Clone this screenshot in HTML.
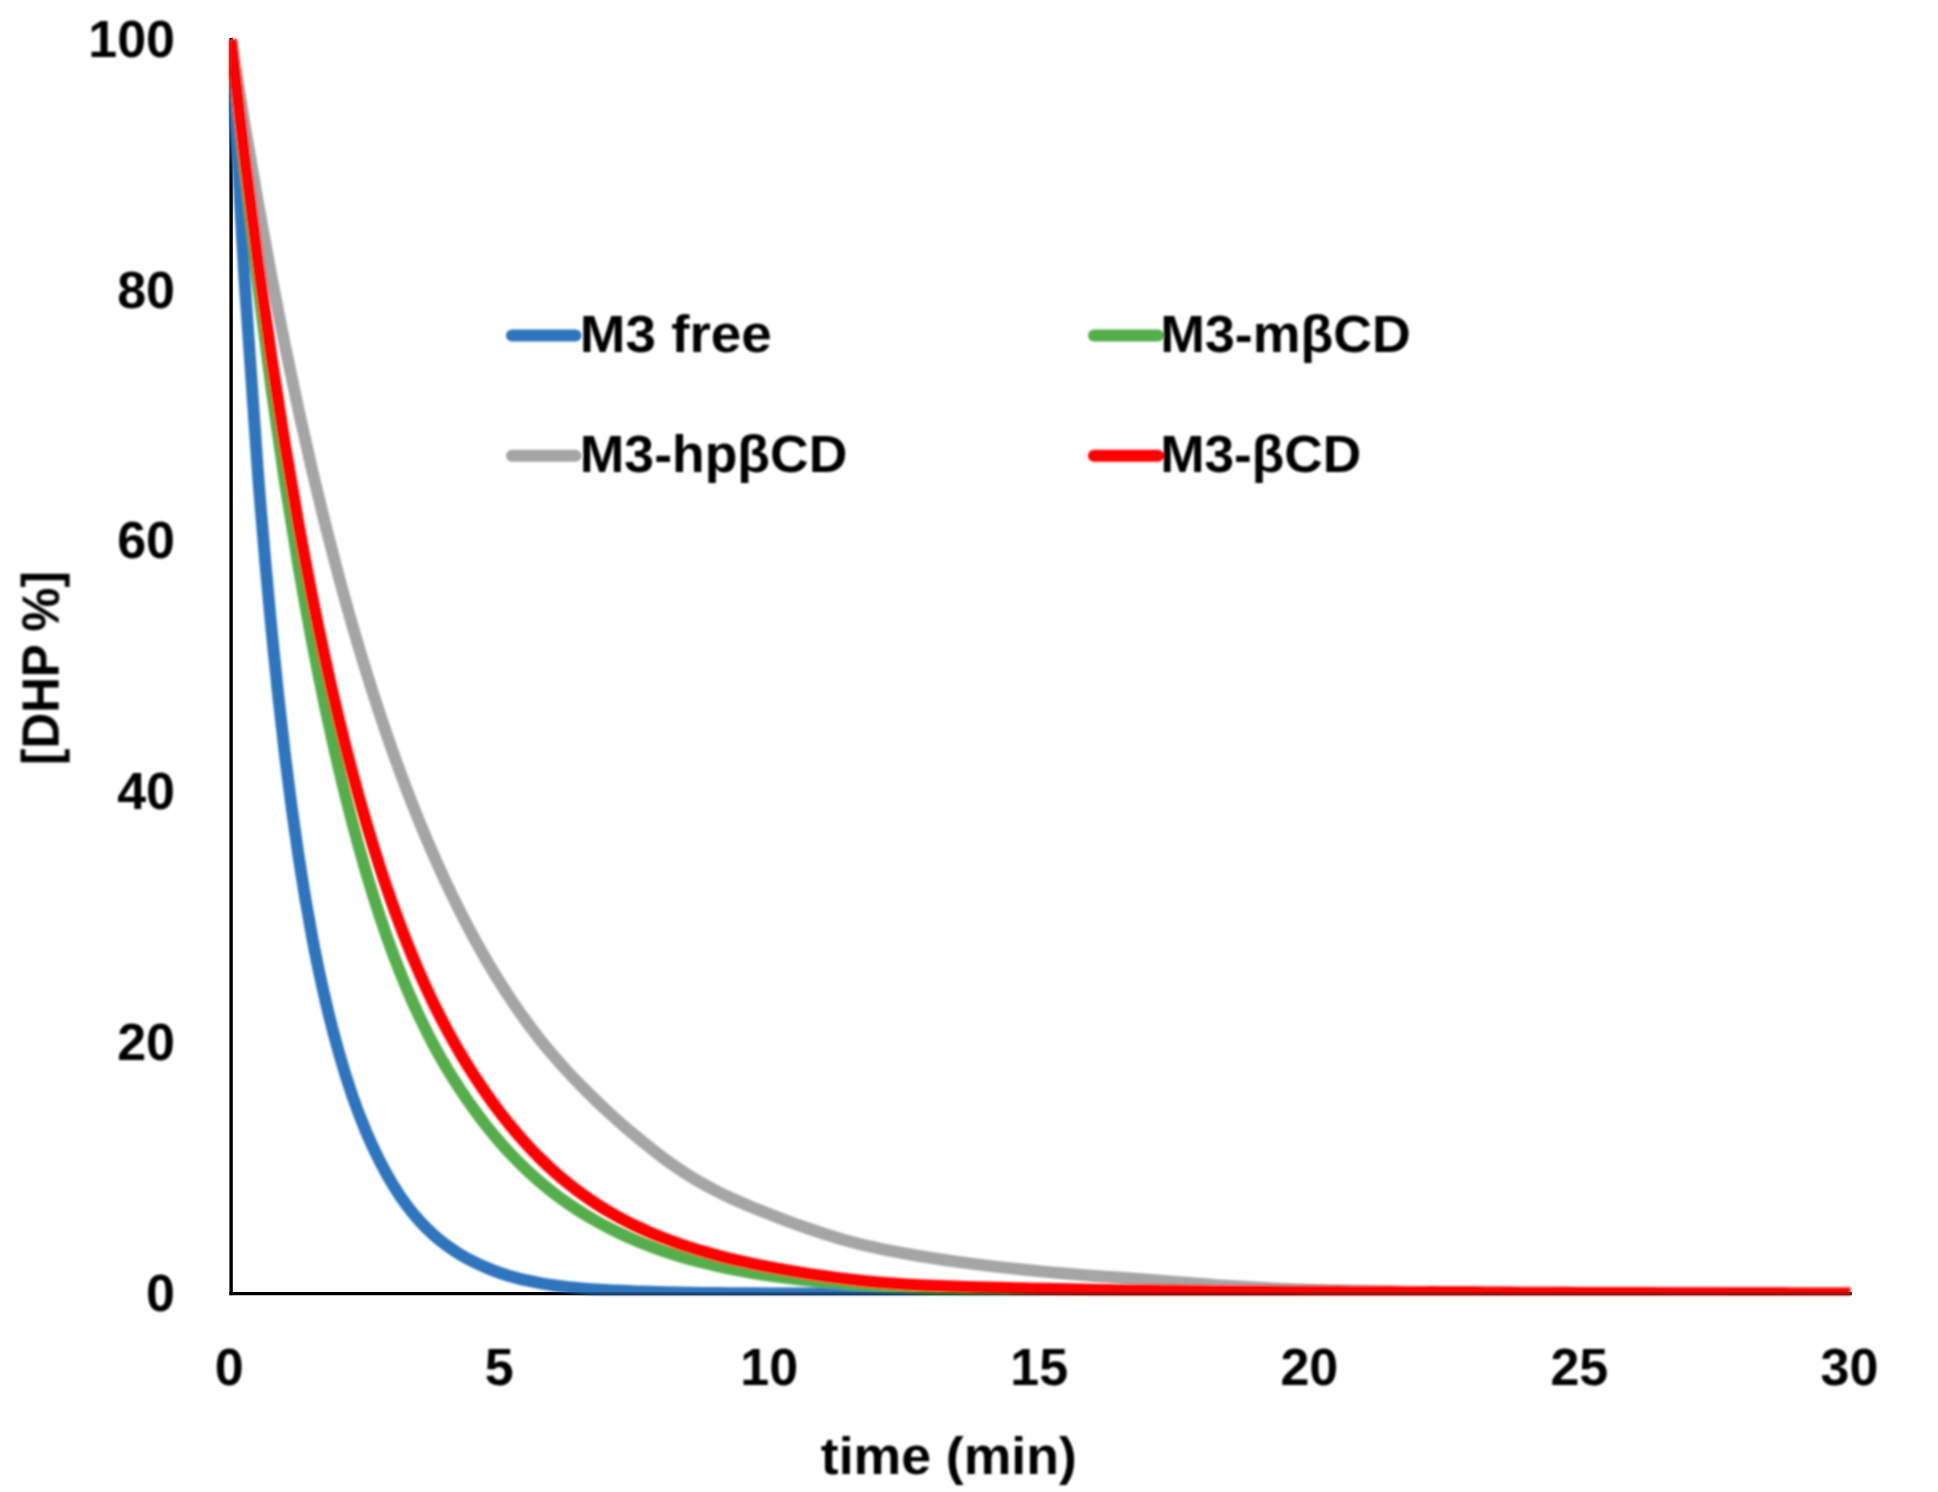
<!DOCTYPE html>
<html><head><meta charset="utf-8"><title>DHP decay chart</title>
<style>html,body{margin:0;padding:0;background:#fff}body{width:1938px;height:1492px;overflow:hidden}</style></head>
<body>
<svg width="1938" height="1492" viewBox="0 0 1938 1492" style="display:block">
<rect width="1938" height="1492" fill="#fff"/>
<defs><filter id="soft" filterUnits="userSpaceOnUse" x="0" y="0" width="1938" height="1492"><feGaussianBlur stdDeviation="1.2"/></filter><filter id="soft2" filterUnits="userSpaceOnUse" x="0" y="0" width="1938" height="1492"><feGaussianBlur stdDeviation="0.8"/></filter><clipPath id="pa"><rect x="229.3" y="37.9" width="1622.4" height="1257.3"/></clipPath></defs>
<rect x="229.4" y="38" width="3.4" height="1257.2" fill="#000"/>
<rect x="229.4" y="1292" width="1622.3" height="3.2" fill="#000"/>
<g filter="url(#soft)">
<g clip-path="url(#pa)" fill="none" stroke-width="12.0" stroke-linejoin="round">
<path d="M231.00,39.40 C235.50,119.44 240.00,207.14 244.50,279.52 C248.99,351.90 253.49,415.39 257.99,473.68 C262.49,531.96 266.99,582.38 271.49,629.24 C275.98,676.10 280.48,717.11 284.98,754.85 C289.48,792.60 293.98,825.49 298.48,855.70 C302.97,885.91 307.47,911.97 311.97,936.09 C316.47,960.21 320.97,980.96 325.46,1000.42 C329.96,1019.89 334.46,1036.91 338.96,1052.87 C343.46,1068.82 347.96,1083.05 352.45,1096.14 C356.95,1109.23 361.45,1120.66 365.95,1131.39 C370.45,1142.12 374.95,1151.60 379.44,1160.50 C383.94,1169.41 388.44,1177.40 392.94,1184.81 C397.44,1192.22 401.94,1198.89 406.44,1204.99 C410.93,1211.08 415.43,1216.42 419.93,1221.36 C424.43,1226.31 428.93,1230.63 433.42,1234.66 C437.92,1238.70 442.42,1242.25 446.92,1245.57 C451.42,1248.88 455.92,1251.82 460.41,1254.55 C464.91,1257.28 469.41,1259.70 473.91,1261.96 C478.41,1264.22 482.91,1266.24 487.40,1268.12 C491.90,1269.99 496.40,1271.67 500.90,1273.22 C505.40,1274.76 509.90,1276.15 514.39,1277.40 C518.89,1278.65 523.39,1279.73 527.89,1280.72 C532.39,1281.72 536.89,1282.58 541.38,1283.36 C545.88,1284.15 550.38,1284.83 554.88,1285.45 C559.38,1286.07 563.88,1286.60 568.38,1287.09 C572.87,1287.57 577.37,1287.98 581.87,1288.36 C586.37,1288.75 590.87,1289.07 595.37,1289.38 C599.86,1289.68 604.36,1289.95 608.86,1290.19 C613.36,1290.44 617.86,1290.66 622.36,1290.86 C626.85,1291.06 631.35,1291.23 635.85,1291.40 C640.35,1291.56 644.85,1291.70 649.35,1291.83 C653.84,1291.96 658.34,1292.08 662.84,1292.19 C667.34,1292.29 671.84,1292.39 676.34,1292.47 C680.83,1292.56 685.33,1292.64 689.83,1292.71 C694.33,1292.78 698.83,1292.84 703.33,1292.89 C707.82,1292.95 712.32,1293.00 716.82,1293.05 C721.32,1293.09 725.82,1293.13 730.32,1293.17 C734.81,1293.21 739.31,1293.24 743.81,1293.27 C748.31,1293.30 752.81,1293.33 757.30,1293.35 C761.80,1293.38 766.30,1293.40 770.80,1293.42 C775.30,1293.44 779.80,1293.46 784.29,1293.47 C788.79,1293.49 793.29,1293.50 797.79,1293.51 C802.29,1293.53 806.79,1293.54 811.28,1293.55 C815.78,1293.56 820.28,1293.57 824.78,1293.58 C829.28,1293.59 833.78,1293.59 838.27,1293.60 C842.77,1293.61 847.27,1293.61 851.77,1293.62 C856.27,1293.63 860.77,1293.63 865.26,1293.64 C869.76,1293.64 874.26,1293.64 878.76,1293.65 C883.26,1293.65 887.76,1293.65 892.25,1293.66 C896.75,1293.66 901.25,1293.66 905.75,1293.67 C910.25,1293.67 914.75,1293.67 919.25,1293.67 C923.74,1293.67 928.24,1293.68 932.74,1293.68 C937.24,1293.68 941.74,1293.68 946.24,1293.68 C950.73,1293.68 955.23,1293.68 959.73,1293.69 C964.23,1293.69 968.73,1293.69 973.22,1293.69 C977.72,1293.69 982.22,1293.69 986.72,1293.69 C991.22,1293.69 995.72,1293.69 1000.21,1293.69 C1004.71,1293.69 1009.21,1293.69 1013.71,1293.69 C1018.21,1293.69 1022.71,1293.69 1027.20,1293.69 C1031.70,1293.70 1036.20,1293.70 1040.70,1293.70 C1045.20,1293.70 1049.70,1293.70 1054.19,1293.70 C1058.69,1293.70 1063.19,1293.70 1067.69,1293.70 C1072.19,1293.70 1076.69,1293.70 1081.18,1293.70 C1085.68,1293.70 1090.18,1293.70 1094.68,1293.70 C1099.18,1293.70 1103.68,1293.70 1108.17,1293.70 C1112.67,1293.70 1117.17,1293.70 1121.67,1293.70 C1126.17,1293.70 1130.67,1293.70 1135.16,1293.70 C1139.66,1293.70 1144.16,1293.70 1148.66,1293.70 C1153.16,1293.70 1157.66,1293.70 1162.15,1293.70 C1166.65,1293.70 1171.15,1293.70 1175.65,1293.70 C1180.15,1293.70 1184.65,1293.70 1189.14,1293.70 C1193.64,1293.70 1198.14,1293.70 1202.64,1293.70 C1207.14,1293.70 1211.64,1293.70 1216.13,1293.70 C1220.63,1293.70 1225.13,1293.70 1229.63,1293.70 C1234.13,1293.70 1238.63,1293.70 1243.12,1293.70 C1247.62,1293.70 1252.12,1293.70 1256.62,1293.70 C1261.12,1293.70 1265.62,1293.70 1270.12,1293.70 C1274.61,1293.70 1279.11,1293.70 1283.61,1293.70 C1288.11,1293.70 1292.61,1293.70 1297.11,1293.70 C1301.60,1293.70 1306.10,1293.70 1310.60,1293.70 C1315.10,1293.70 1319.60,1293.70 1324.10,1293.70 C1328.59,1293.70 1333.09,1293.70 1337.59,1293.70 C1342.09,1293.70 1346.59,1293.70 1351.09,1293.70 C1355.58,1293.70 1360.08,1293.70 1364.58,1293.70 C1369.08,1293.70 1373.58,1293.70 1378.08,1293.70 C1382.57,1293.70 1387.07,1293.70 1391.57,1293.70 C1396.07,1293.70 1400.57,1293.70 1405.06,1293.70 C1409.56,1293.70 1414.06,1293.70 1418.56,1293.70 C1423.06,1293.70 1427.56,1293.70 1432.05,1293.70 C1436.55,1293.70 1441.05,1293.70 1445.55,1293.70 C1450.05,1293.70 1454.55,1293.70 1459.04,1293.70 C1463.54,1293.70 1468.04,1293.70 1472.54,1293.70 C1477.04,1293.70 1481.54,1293.70 1486.03,1293.70 C1490.53,1293.70 1495.03,1293.70 1499.53,1293.70 C1504.03,1293.70 1508.53,1293.70 1513.02,1293.70 C1517.52,1293.70 1522.02,1293.70 1526.52,1293.70 C1531.02,1293.70 1535.52,1293.70 1540.01,1293.70 C1544.51,1293.70 1549.01,1293.70 1553.51,1293.70 C1558.01,1293.70 1562.51,1293.70 1567.00,1293.70 C1571.50,1293.70 1576.00,1293.70 1580.50,1293.70 C1585.00,1293.70 1589.50,1293.70 1593.99,1293.70 C1598.49,1293.70 1602.99,1293.70 1607.49,1293.70 C1611.99,1293.70 1616.49,1293.70 1620.98,1293.70 C1625.48,1293.70 1629.98,1293.70 1634.48,1293.70 C1638.98,1293.70 1643.48,1293.70 1647.97,1293.70 C1652.47,1293.70 1656.97,1293.70 1661.47,1293.70 C1665.97,1293.70 1670.47,1293.70 1674.96,1293.70 C1679.46,1293.70 1683.96,1293.70 1688.46,1293.70 C1692.96,1293.70 1697.46,1293.70 1701.95,1293.70 C1706.45,1293.70 1710.95,1293.70 1715.45,1293.70 C1719.95,1293.70 1724.45,1293.70 1728.94,1293.70 C1733.44,1293.70 1737.94,1293.70 1742.44,1293.70 C1746.94,1293.70 1751.44,1293.70 1755.93,1293.70 C1760.43,1293.70 1764.93,1293.70 1769.43,1293.70 C1773.93,1293.70 1778.43,1293.70 1782.92,1293.70 C1787.42,1293.70 1791.92,1293.70 1796.42,1293.70 C1800.92,1293.70 1805.42,1293.70 1809.91,1293.70 C1814.41,1293.70 1818.91,1293.70 1823.41,1293.70 C1827.91,1293.70 1832.41,1293.70 1836.90,1293.70 C1841.40,1293.70 1845.90,1293.70 1850.40,1293.70" stroke="#2D74BE"/>
<path d="M231.00,39.40 C235.50,82.49 240.00,127.79 244.50,168.67 C248.99,209.55 253.49,247.98 257.99,284.66 C262.49,321.33 266.99,355.82 271.49,388.72 C275.98,421.62 280.48,452.56 284.98,482.08 C289.48,511.60 293.98,539.36 298.48,565.84 C302.97,592.32 307.47,617.22 311.97,640.98 C316.47,664.74 320.97,687.07 325.46,708.38 C329.96,729.69 334.46,749.73 338.96,768.85 C343.46,787.96 347.96,805.93 352.45,823.08 C356.95,840.23 361.45,856.38 365.95,871.73 C370.45,887.08 374.95,901.53 379.44,915.19 C383.94,928.84 388.44,941.57 392.94,953.64 C397.44,965.70 401.94,976.89 406.44,987.57 C410.93,998.25 415.43,1008.23 419.93,1017.73 C424.43,1027.23 428.93,1036.11 433.42,1044.56 C437.92,1053.01 442.42,1060.90 446.92,1068.44 C451.42,1075.98 455.92,1083.01 460.41,1089.82 C464.91,1096.63 469.41,1103.07 473.91,1109.29 C478.41,1115.51 482.91,1121.46 487.40,1127.12 C491.90,1132.79 496.40,1138.15 500.90,1143.28 C505.40,1148.41 509.90,1153.26 514.39,1157.91 C518.89,1162.55 523.39,1166.94 527.89,1171.15 C532.39,1175.35 536.89,1179.33 541.38,1183.14 C545.88,1186.95 550.38,1190.55 554.88,1193.99 C559.38,1197.43 563.88,1200.66 568.38,1203.76 C572.87,1206.86 577.37,1209.78 581.87,1212.59 C586.37,1215.40 590.87,1218.06 595.37,1220.61 C599.86,1223.16 604.36,1225.57 608.86,1227.88 C613.36,1230.20 617.86,1232.39 622.36,1234.49 C626.85,1236.59 631.35,1238.57 635.85,1240.48 C640.35,1242.38 644.85,1244.19 649.35,1245.92 C653.84,1247.64 658.34,1249.27 662.84,1250.83 C667.34,1252.38 671.84,1253.84 676.34,1255.24 C680.83,1256.64 685.33,1257.95 689.83,1259.21 C694.33,1260.46 698.83,1261.64 703.33,1262.77 C707.82,1263.90 712.32,1264.96 716.82,1265.97 C721.32,1266.98 725.82,1267.93 730.32,1268.84 C734.81,1269.75 739.31,1270.61 743.81,1271.42 C748.31,1272.24 752.81,1273.01 757.30,1273.74 C761.80,1274.47 766.30,1275.16 770.80,1275.81 C775.30,1276.47 779.80,1277.09 784.29,1277.68 C788.79,1278.27 793.29,1278.82 797.79,1279.35 C802.29,1279.87 806.79,1280.37 811.28,1280.84 C815.78,1281.31 820.28,1281.76 824.78,1282.18 C829.28,1282.60 833.78,1283.00 838.27,1283.38 C842.77,1283.76 847.27,1284.12 851.77,1284.46 C856.27,1284.80 860.77,1285.12 865.26,1285.42 C869.76,1285.73 874.26,1286.01 878.76,1286.29 C883.26,1286.56 887.76,1286.82 892.25,1287.06 C896.75,1287.31 901.25,1287.54 905.75,1287.76 C910.25,1287.98 914.75,1288.19 919.25,1288.38 C923.74,1288.58 928.24,1288.76 932.74,1288.94 C937.24,1289.12 941.74,1289.28 946.24,1289.44 C950.73,1289.60 955.23,1289.75 959.73,1289.89 C964.23,1290.03 968.73,1290.16 973.22,1290.29 C977.72,1290.41 982.22,1290.53 986.72,1290.64 C991.22,1290.75 995.72,1290.86 1000.21,1290.96 C1004.71,1291.06 1009.21,1291.15 1013.71,1291.24 C1018.21,1291.33 1022.71,1291.41 1027.20,1291.49 C1031.70,1291.57 1036.20,1291.65 1040.70,1291.72 C1045.20,1291.79 1049.70,1291.86 1054.19,1291.92 C1058.69,1291.98 1063.19,1292.04 1067.69,1292.10 C1072.19,1292.16 1076.69,1292.21 1081.18,1292.26 C1085.68,1292.32 1090.18,1292.36 1094.68,1292.41 C1099.18,1292.46 1103.68,1292.50 1108.17,1292.54 C1112.67,1292.58 1117.17,1292.62 1121.67,1292.66 C1126.17,1292.70 1130.67,1292.73 1135.16,1292.77 C1139.66,1292.80 1144.16,1292.83 1148.66,1292.86 C1153.16,1292.89 1157.66,1292.92 1162.15,1292.95 C1166.65,1292.97 1171.15,1293.00 1175.65,1293.02 C1180.15,1293.05 1184.65,1293.07 1189.14,1293.09 C1193.64,1293.11 1198.14,1293.13 1202.64,1293.15 C1207.14,1293.17 1211.64,1293.19 1216.13,1293.21 C1220.63,1293.23 1225.13,1293.24 1229.63,1293.26 C1234.13,1293.28 1238.63,1293.29 1243.12,1293.30 C1247.62,1293.32 1252.12,1293.33 1256.62,1293.35 C1261.12,1293.36 1265.62,1293.37 1270.12,1293.38 C1274.61,1293.39 1279.11,1293.40 1283.61,1293.41 C1288.11,1293.42 1292.61,1293.43 1297.11,1293.44 C1301.60,1293.45 1306.10,1293.46 1310.60,1293.47 C1315.10,1293.48 1319.60,1293.49 1324.10,1293.49 C1328.59,1293.50 1333.09,1293.51 1337.59,1293.51 C1342.09,1293.52 1346.59,1293.53 1351.09,1293.53 C1355.58,1293.54 1360.08,1293.54 1364.58,1293.55 C1369.08,1293.56 1373.58,1293.56 1378.08,1293.57 C1382.57,1293.57 1387.07,1293.57 1391.57,1293.58 C1396.07,1293.58 1400.57,1293.59 1405.06,1293.59 C1409.56,1293.60 1414.06,1293.60 1418.56,1293.60 C1423.06,1293.61 1427.56,1293.61 1432.05,1293.61 C1436.55,1293.62 1441.05,1293.62 1445.55,1293.62 C1450.05,1293.62 1454.55,1293.63 1459.04,1293.63 C1463.54,1293.63 1468.04,1293.63 1472.54,1293.64 C1477.04,1293.64 1481.54,1293.64 1486.03,1293.64 C1490.53,1293.64 1495.03,1293.65 1499.53,1293.65 C1504.03,1293.65 1508.53,1293.65 1513.02,1293.65 C1517.52,1293.66 1522.02,1293.66 1526.52,1293.66 C1531.02,1293.66 1535.52,1293.66 1540.01,1293.66 C1544.51,1293.66 1549.01,1293.67 1553.51,1293.67 C1558.01,1293.67 1562.51,1293.67 1567.00,1293.67 C1571.50,1293.67 1576.00,1293.67 1580.50,1293.67 C1585.00,1293.67 1589.50,1293.67 1593.99,1293.68 C1598.49,1293.68 1602.99,1293.68 1607.49,1293.68 C1611.99,1293.68 1616.49,1293.68 1620.98,1293.68 C1625.48,1293.68 1629.98,1293.68 1634.48,1293.68 C1638.98,1293.68 1643.48,1293.68 1647.97,1293.68 C1652.47,1293.68 1656.97,1293.69 1661.47,1293.69 C1665.97,1293.69 1670.47,1293.69 1674.96,1293.69 C1679.46,1293.69 1683.96,1293.69 1688.46,1293.69 C1692.96,1293.69 1697.46,1293.69 1701.95,1293.69 C1706.45,1293.69 1710.95,1293.69 1715.45,1293.69 C1719.95,1293.69 1724.45,1293.69 1728.94,1293.69 C1733.44,1293.69 1737.94,1293.69 1742.44,1293.69 C1746.94,1293.69 1751.44,1293.69 1755.93,1293.69 C1760.43,1293.69 1764.93,1293.69 1769.43,1293.69 C1773.93,1293.69 1778.43,1293.69 1782.92,1293.69 C1787.42,1293.69 1791.92,1293.70 1796.42,1293.70 C1800.92,1293.70 1805.42,1293.70 1809.91,1293.70 C1814.41,1293.70 1818.91,1293.70 1823.41,1293.70 C1827.91,1293.70 1832.41,1293.70 1836.90,1293.70 C1841.40,1293.70 1845.90,1293.70 1850.40,1293.70" stroke="#55AE4B"/>
<path d="M231.00,39.40 C235.50,67.67 240.00,96.89 244.50,124.20 C248.99,151.51 253.49,177.80 257.99,203.26 C262.49,228.73 266.99,253.24 271.49,276.98 C275.98,300.73 280.48,323.58 284.98,345.72 C289.48,367.86 293.98,389.17 298.48,409.81 C302.97,430.45 307.47,450.32 311.97,469.57 C316.47,488.81 320.97,507.34 325.46,525.28 C329.96,543.23 334.46,560.50 338.96,577.23 C343.46,593.96 347.96,610.07 352.45,625.67 C356.95,641.27 361.45,656.29 365.95,670.83 C370.45,685.38 374.95,699.38 379.44,712.94 C383.94,726.50 388.44,739.56 392.94,752.21 C397.44,764.85 401.94,777.02 406.44,788.81 C410.93,800.60 415.43,811.95 419.93,822.95 C424.43,833.94 428.93,844.52 433.42,854.77 C437.92,865.02 442.42,874.89 446.92,884.45 C451.42,894.00 455.92,903.20 460.41,912.12 C464.91,921.03 469.41,929.62 473.91,937.91 C478.41,946.20 482.91,954.17 487.40,961.86 C491.90,969.55 496.40,976.93 500.90,984.05 C505.40,991.16 509.90,997.99 514.39,1004.58 C518.89,1011.17 523.39,1017.48 527.89,1023.58 C532.39,1029.67 536.89,1035.51 541.38,1041.15 C545.88,1046.78 550.38,1052.17 554.88,1057.39 C559.38,1062.62 563.88,1067.63 568.38,1072.49 C572.87,1077.36 577.37,1082.00 581.87,1086.57 C586.37,1091.14 590.87,1095.56 595.37,1099.89 C599.86,1104.22 604.36,1108.44 608.86,1112.57 C613.36,1116.69 617.86,1120.72 622.36,1124.65 C626.85,1128.59 631.35,1132.42 635.85,1136.17 C640.35,1139.92 644.85,1143.58 649.35,1147.15 C653.84,1150.73 658.34,1154.26 662.84,1157.62 C667.34,1160.97 671.84,1164.20 676.34,1167.27 C680.83,1170.34 685.33,1173.26 689.83,1176.06 C694.33,1178.85 698.83,1181.49 703.33,1184.03 C707.82,1186.56 712.32,1188.97 716.82,1191.26 C721.32,1193.56 725.82,1195.73 730.32,1197.81 C734.81,1199.89 739.31,1201.82 743.81,1203.74 C748.31,1205.66 752.81,1207.50 757.30,1209.33 C761.80,1211.15 766.30,1212.94 770.80,1214.69 C775.30,1216.44 779.80,1218.16 784.29,1219.84 C788.79,1221.52 793.29,1223.16 797.79,1224.77 C802.29,1226.38 806.79,1227.96 811.28,1229.51 C815.78,1231.05 820.28,1232.58 824.78,1234.03 C829.28,1235.48 833.78,1236.87 838.27,1238.19 C842.77,1239.50 847.27,1240.75 851.77,1241.94 C856.27,1243.13 860.77,1244.26 865.26,1245.34 C869.76,1246.41 874.26,1247.43 878.76,1248.40 C883.26,1249.37 887.76,1250.29 892.25,1251.17 C896.75,1252.05 901.25,1252.86 905.75,1253.67 C910.25,1254.47 914.75,1255.24 919.25,1255.99 C923.74,1256.74 928.24,1257.46 932.74,1258.17 C937.24,1258.87 941.74,1259.55 946.24,1260.20 C950.73,1260.86 955.23,1261.50 959.73,1262.11 C964.23,1262.73 968.73,1263.33 973.22,1263.91 C977.72,1264.48 982.22,1265.04 986.72,1265.58 C991.22,1266.13 995.72,1266.65 1000.21,1267.16 C1004.71,1267.67 1009.21,1268.16 1013.71,1268.65 C1018.21,1269.13 1022.71,1269.59 1027.20,1270.04 C1031.70,1270.50 1036.20,1270.94 1040.70,1271.36 C1045.20,1271.79 1049.70,1272.20 1054.19,1272.60 C1058.69,1273.01 1063.19,1273.40 1067.69,1273.78 C1072.19,1274.15 1076.69,1274.52 1081.18,1274.88 C1085.68,1275.24 1090.18,1275.58 1094.68,1275.92 C1099.18,1276.25 1103.68,1276.57 1108.17,1276.89 C1112.67,1277.20 1117.17,1277.49 1121.67,1277.81 C1126.17,1278.12 1130.67,1278.43 1135.16,1278.76 C1139.66,1279.09 1144.16,1279.42 1148.66,1279.77 C1153.16,1280.11 1157.66,1280.47 1162.15,1280.83 C1166.65,1281.19 1171.15,1281.55 1175.65,1281.91 C1180.15,1282.28 1184.65,1282.65 1189.14,1283.01 C1193.64,1283.38 1198.14,1283.75 1202.64,1284.10 C1207.14,1284.45 1211.64,1284.80 1216.13,1285.12 C1220.63,1285.44 1225.13,1285.74 1229.63,1286.03 C1234.13,1286.32 1238.63,1286.60 1243.12,1286.86 C1247.62,1287.12 1252.12,1287.37 1256.62,1287.60 C1261.12,1287.84 1265.62,1288.06 1270.12,1288.27 C1274.61,1288.49 1279.11,1288.68 1283.61,1288.87 C1288.11,1289.05 1292.61,1289.22 1297.11,1289.38 C1301.60,1289.54 1306.10,1289.69 1310.60,1289.82 C1315.10,1289.96 1319.60,1290.09 1324.10,1290.21 C1328.59,1290.33 1333.09,1290.44 1337.59,1290.54 C1342.09,1290.65 1346.59,1290.74 1351.09,1290.83 C1355.58,1290.93 1360.08,1291.01 1364.58,1291.09 C1369.08,1291.18 1373.58,1291.25 1378.08,1291.33 C1382.57,1291.40 1387.07,1291.47 1391.57,1291.53 C1396.07,1291.59 1400.57,1291.65 1405.06,1291.71 C1409.56,1291.77 1414.06,1291.82 1418.56,1291.87 C1423.06,1291.92 1427.56,1291.97 1432.05,1292.01 C1436.55,1292.06 1441.05,1292.10 1445.55,1292.14 C1450.05,1292.18 1454.55,1292.22 1459.04,1292.25 C1463.54,1292.29 1468.04,1292.33 1472.54,1292.36 C1477.04,1292.39 1481.54,1292.43 1486.03,1292.46 C1490.53,1292.49 1495.03,1292.52 1499.53,1292.55 C1504.03,1292.58 1508.53,1292.61 1513.02,1292.63 C1517.52,1292.66 1522.02,1292.69 1526.52,1292.71 C1531.02,1292.74 1535.52,1292.76 1540.01,1292.79 C1544.51,1292.81 1549.01,1292.83 1553.51,1292.85 C1558.01,1292.88 1562.51,1292.90 1567.00,1292.92 C1571.50,1292.94 1576.00,1292.96 1580.50,1292.97 C1585.00,1292.99 1589.50,1293.01 1593.99,1293.03 C1598.49,1293.05 1602.99,1293.06 1607.49,1293.08 C1611.99,1293.09 1616.49,1293.11 1620.98,1293.12 C1625.48,1293.14 1629.98,1293.15 1634.48,1293.17 C1638.98,1293.18 1643.48,1293.19 1647.97,1293.21 C1652.47,1293.22 1656.97,1293.23 1661.47,1293.24 C1665.97,1293.25 1670.47,1293.27 1674.96,1293.28 C1679.46,1293.29 1683.96,1293.30 1688.46,1293.31 C1692.96,1293.32 1697.46,1293.33 1701.95,1293.34 C1706.45,1293.35 1710.95,1293.36 1715.45,1293.36 C1719.95,1293.37 1724.45,1293.38 1728.94,1293.39 C1733.44,1293.40 1737.94,1293.40 1742.44,1293.41 C1746.94,1293.42 1751.44,1293.43 1755.93,1293.43 C1760.43,1293.44 1764.93,1293.45 1769.43,1293.45 C1773.93,1293.46 1778.43,1293.47 1782.92,1293.47 C1787.42,1293.48 1791.92,1293.48 1796.42,1293.49 C1800.92,1293.49 1805.42,1293.50 1809.91,1293.50 C1814.41,1293.51 1818.91,1293.51 1823.41,1293.52 C1827.91,1293.52 1832.41,1293.53 1836.90,1293.53 C1841.40,1293.54 1845.90,1293.54 1850.40,1293.54" stroke="#A5A5A5"/>
<path d="M231.00,39.40 C235.50,78.34 240.00,119.08 244.50,156.21 C248.99,193.33 253.49,228.47 257.99,262.13 C262.49,295.80 266.99,327.67 271.49,358.20 C275.98,388.73 280.48,417.63 284.98,445.32 C289.48,473.00 293.98,499.21 298.48,524.32 C302.97,549.43 307.47,573.20 311.97,595.97 C316.47,618.74 320.97,640.30 325.46,660.95 C329.96,681.60 334.46,701.14 338.96,719.87 C343.46,738.60 347.96,756.32 352.45,773.31 C356.95,790.29 361.45,806.37 365.95,821.77 C370.45,837.17 374.95,851.75 379.44,865.72 C383.94,879.68 388.44,892.94 392.94,905.57 C397.44,918.21 401.94,930.14 406.44,941.53 C410.93,952.91 415.43,963.63 419.93,973.88 C424.43,984.13 428.93,993.77 433.42,1003.03 C437.92,1012.30 442.42,1021.08 446.92,1029.49 C451.42,1037.90 455.92,1045.86 460.41,1053.50 C464.91,1061.14 469.41,1068.34 473.91,1075.30 C478.41,1082.27 482.91,1088.88 487.40,1095.27 C491.90,1101.65 496.40,1107.75 500.90,1113.61 C505.40,1119.47 509.90,1125.08 514.39,1130.44 C518.89,1135.79 523.39,1140.86 527.89,1145.72 C532.39,1150.58 536.89,1155.19 541.38,1159.60 C545.88,1164.02 550.38,1168.21 554.88,1172.21 C559.38,1176.22 563.88,1180.02 568.38,1183.64 C572.87,1187.27 577.37,1190.69 581.87,1193.96 C586.37,1197.23 590.87,1200.31 595.37,1203.26 C599.86,1206.21 604.36,1208.99 608.86,1211.64 C613.36,1214.30 617.86,1216.80 622.36,1219.20 C626.85,1221.59 631.35,1223.85 635.85,1226.01 C640.35,1228.16 644.85,1230.20 649.35,1232.15 C653.84,1234.11 658.34,1235.96 662.84,1237.74 C667.34,1239.51 671.84,1241.19 676.34,1242.80 C680.83,1244.42 685.33,1245.94 689.83,1247.41 C694.33,1248.87 698.83,1250.26 703.33,1251.59 C707.82,1252.92 712.32,1254.18 716.82,1255.39 C721.32,1256.60 725.82,1257.74 730.32,1258.84 C734.81,1259.94 739.31,1260.98 743.81,1261.98 C748.31,1262.97 752.81,1263.91 757.30,1264.83 C761.80,1265.74 766.30,1266.60 770.80,1267.45 C775.30,1268.30 779.80,1269.11 784.29,1269.90 C788.79,1270.69 793.29,1271.45 797.79,1272.18 C802.29,1272.92 806.79,1273.62 811.28,1274.31 C815.78,1274.99 820.28,1275.64 824.78,1276.27 C829.28,1276.91 833.78,1277.52 838.27,1278.10 C842.77,1278.68 847.27,1279.23 851.77,1279.76 C856.27,1280.28 860.77,1280.79 865.26,1281.24 C869.76,1281.70 874.26,1282.12 878.76,1282.51 C883.26,1282.90 887.76,1283.24 892.25,1283.57 C896.75,1283.89 901.25,1284.18 905.75,1284.45 C910.25,1284.72 914.75,1284.96 919.25,1285.18 C923.74,1285.41 928.24,1285.61 932.74,1285.79 C937.24,1285.97 941.74,1286.13 946.24,1286.28 C950.73,1286.44 955.23,1286.59 959.73,1286.73 C964.23,1286.87 968.73,1287.01 973.22,1287.14 C977.72,1287.27 982.22,1287.40 986.72,1287.52 C991.22,1287.64 995.72,1287.76 1000.21,1287.87 C1004.71,1287.98 1009.21,1288.09 1013.71,1288.19 C1018.21,1288.29 1022.71,1288.39 1027.20,1288.49 C1031.70,1288.58 1036.20,1288.67 1040.70,1288.76 C1045.20,1288.85 1049.70,1288.94 1054.19,1289.02 C1058.69,1289.10 1063.19,1289.18 1067.69,1289.25 C1072.19,1289.33 1076.69,1289.40 1081.18,1289.47 C1085.68,1289.54 1090.18,1289.61 1094.68,1289.67 C1099.18,1289.74 1103.68,1289.80 1108.17,1289.86 C1112.67,1289.92 1117.17,1289.98 1121.67,1290.04 C1126.17,1290.09 1130.67,1290.15 1135.16,1290.20 C1139.66,1290.25 1144.16,1290.30 1148.66,1290.35 C1153.16,1290.40 1157.66,1290.44 1162.15,1290.49 C1166.65,1290.53 1171.15,1290.58 1175.65,1290.62 C1180.15,1290.66 1184.65,1290.70 1189.14,1290.74 C1193.64,1290.78 1198.14,1290.82 1202.64,1290.85 C1207.14,1290.89 1211.64,1290.92 1216.13,1290.96 C1220.63,1290.99 1225.13,1291.02 1229.63,1291.05 C1234.13,1291.08 1238.63,1291.12 1243.12,1291.14 C1247.62,1291.17 1252.12,1291.20 1256.62,1291.23 C1261.12,1291.26 1265.62,1291.28 1270.12,1291.31 C1274.61,1291.33 1279.11,1291.36 1283.61,1291.38 C1288.11,1291.40 1292.61,1291.43 1297.11,1291.45 C1301.60,1291.47 1306.10,1291.49 1310.60,1291.51 C1315.10,1291.53 1319.60,1291.55 1324.10,1291.57 C1328.59,1291.59 1333.09,1291.61 1337.59,1291.62 C1342.09,1291.64 1346.59,1291.66 1351.09,1291.67 C1355.58,1291.69 1360.08,1291.70 1364.58,1291.72 C1369.08,1291.74 1373.58,1291.75 1378.08,1291.77 C1382.57,1291.79 1387.07,1291.81 1391.57,1291.84 C1396.07,1291.86 1400.57,1291.89 1405.06,1291.91 C1409.56,1291.94 1414.06,1291.96 1418.56,1291.99 C1423.06,1292.02 1427.56,1292.05 1432.05,1292.08 C1436.55,1292.11 1441.05,1292.15 1445.55,1292.18 C1450.05,1292.21 1454.55,1292.24 1459.04,1292.27 C1463.54,1292.30 1468.04,1292.33 1472.54,1292.36 C1477.04,1292.39 1481.54,1292.42 1486.03,1292.44 C1490.53,1292.47 1495.03,1292.49 1499.53,1292.52 C1504.03,1292.54 1508.53,1292.57 1513.02,1292.59 C1517.52,1292.61 1522.02,1292.64 1526.52,1292.66 C1531.02,1292.68 1535.52,1292.70 1540.01,1292.72 C1544.51,1292.74 1549.01,1292.76 1553.51,1292.78 C1558.01,1292.80 1562.51,1292.82 1567.00,1292.84 C1571.50,1292.85 1576.00,1292.87 1580.50,1292.89 C1585.00,1292.90 1589.50,1292.92 1593.99,1292.93 C1598.49,1292.95 1602.99,1292.97 1607.49,1292.98 C1611.99,1292.99 1616.49,1293.01 1620.98,1293.02 C1625.48,1293.04 1629.98,1293.05 1634.48,1293.06 C1638.98,1293.08 1643.48,1293.09 1647.97,1293.10 C1652.47,1293.11 1656.97,1293.12 1661.47,1293.13 C1665.97,1293.15 1670.47,1293.16 1674.96,1293.17 C1679.46,1293.18 1683.96,1293.19 1688.46,1293.20 C1692.96,1293.21 1697.46,1293.22 1701.95,1293.23 C1706.45,1293.24 1710.95,1293.25 1715.45,1293.25 C1719.95,1293.26 1724.45,1293.27 1728.94,1293.28 C1733.44,1293.29 1737.94,1293.30 1742.44,1293.30 C1746.94,1293.31 1751.44,1293.32 1755.93,1293.33 C1760.43,1293.33 1764.93,1293.34 1769.43,1293.35 C1773.93,1293.35 1778.43,1293.36 1782.92,1293.37 C1787.42,1293.37 1791.92,1293.38 1796.42,1293.39 C1800.92,1293.39 1805.42,1293.40 1809.91,1293.40 C1814.41,1293.41 1818.91,1293.41 1823.41,1293.42 C1827.91,1293.43 1832.41,1293.43 1836.90,1293.44 C1841.40,1293.44 1845.90,1293.45 1850.40,1293.45" stroke="#FF0000"/>
</g></g>
<rect x="232.8" y="1292" width="1618.9" height="3.2" fill="#000" opacity="0.3"/>
<g font-family="'Liberation Sans', Arial, sans-serif" font-weight="700" font-size="51" fill="#000" filter="url(#soft2)">
<text x="175" y="1310.9" text-anchor="end" font-size="52">0</text>
<text x="175" y="1060.0" text-anchor="end" font-size="52">20</text>
<text x="175" y="809.2" text-anchor="end" font-size="52">40</text>
<text x="175" y="558.3" text-anchor="end" font-size="52">60</text>
<text x="175" y="307.5" text-anchor="end" font-size="52">80</text>
<text x="175" y="56.6" text-anchor="end" font-size="52">100</text>
<text x="229.1" y="1385.3" text-anchor="middle" font-size="52">0</text>
<text x="499.1" y="1385.3" text-anchor="middle" font-size="52">5</text>
<text x="769.2" y="1385.3" text-anchor="middle" font-size="52">10</text>
<text x="1039.2" y="1385.3" text-anchor="middle" font-size="52">15</text>
<text x="1309.3" y="1385.3" text-anchor="middle" font-size="52">20</text>
<text x="1579.3" y="1385.3" text-anchor="middle" font-size="52">25</text>
<text x="1849.4" y="1385.3" text-anchor="middle" font-size="52">30</text>
<text x="948.8" y="1473.5" text-anchor="middle" textLength="256" lengthAdjust="spacingAndGlyphs">time (min)</text>
<text transform="translate(58.6,668) rotate(-90)" text-anchor="middle" textLength="194" lengthAdjust="spacingAndGlyphs">[DHP %]</text>
<line x1="512" x2="575.5" y1="335.5" y2="335.5" stroke="#2D74BE" stroke-width="12" stroke-linecap="round"/>
<text x="579.8" y="351.5" textLength="192" lengthAdjust="spacingAndGlyphs">M3 free</text>
<line x1="512" x2="575.5" y1="455.7" y2="455.7" stroke="#A5A5A5" stroke-width="12" stroke-linecap="round"/>
<text x="579.8" y="471.7" textLength="267.5" lengthAdjust="spacingAndGlyphs">M3-hpβCD</text>
<line x1="1094" x2="1158" y1="335.5" y2="335.5" stroke="#55AE4B" stroke-width="12" stroke-linecap="round"/>
<text x="1160.2" y="351.5" textLength="250.5" lengthAdjust="spacingAndGlyphs">M3-mβCD</text>
<line x1="1094" x2="1158" y1="455.7" y2="455.7" stroke="#FF0000" stroke-width="12" stroke-linecap="round"/>
<text x="1160.2" y="471.7" textLength="201" lengthAdjust="spacingAndGlyphs">M3-βCD</text>
</g>
</svg>
</body></html>
